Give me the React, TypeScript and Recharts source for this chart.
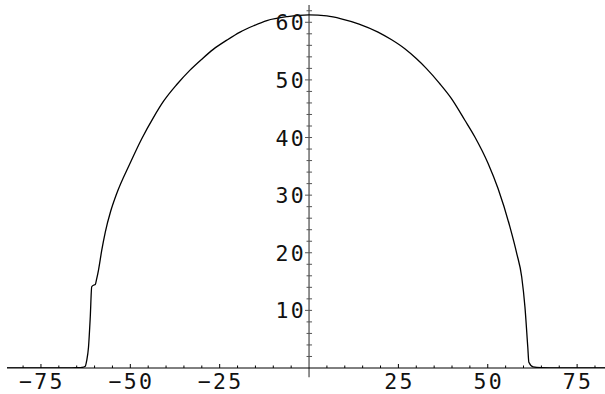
import { LineChart, Line, XAxis, YAxis, ReferenceLine, ReferenceDot } from "recharts";

// curve samples
const xs = [
  -84.5, -75, -68, -65, -63.5, -62.6, -62.2, -61.7, -61.2, -60.8, -60.2, -59.8, -59.4, -58.9, -58.0,
  -57.0, -55.5, -53.8, -50.1, -46.8, -43.5, -40.7, -37, -33.3, -30, -26.8, -23, -19.3, -15.5,
  -11.8, -6, 0, 5, 9, 14, 19.3, 23, 26.8, 30, 32.8, 36.5, 39.8, 43.6, 46.4, 50.1, 52.9,
  56.2, 58.1, 59.5, 60.4, 61.2, 61.5, 62.7, 64.9, 70, 82.8,
];
const ys = [
  0, 0, 0.01, 0.05, 0.1, 0.3, 1.3, 3.6, 8.9, 14.1, 14.4, 14.5, 15.5, 17.0, 20.4,
  23.6, 27.2, 30.3, 35.5, 39.8, 43.5, 46.3, 49.2, 51.7, 53.6, 55.3, 56.9, 58.3, 59.4,
  60.3, 61.0, 61.3, 61.1, 60.6, 59.7, 58.3, 57.0, 55.4, 53.7, 52.0, 49.4, 46.8, 43.0, 40.1, 35.5, 31.1,
  24.5, 19.9, 15.8, 10.6, 3.6, 1.0, 0.2, 0.05, 0, 0,
];

const xTicks = [-80, -75, -70, -65, -60, -55, -50, -45, -40, -35, -30, -25, -20, -15, -10, -5,
  5, 10, 15, 20, 25, 30, 35, 40, 45, 50, 55, 60, 65, 70, 75, 80];
const xLabels = [-75, -50, -25, 25, 50, 75];
const yTicks = [2, 4, 6, 8, 10, 12, 14, 16, 18, 20, 22, 24, 26, 28, 30, 32, 34, 36, 38, 40,
  42, 44, 46, 48, 50, 52, 54, 56, 58, 60, 62];
const yLabels = [10, 20, 30, 40, 50, 60];

const data = xs.map((x, i) => ({ x, y: ys[i] }));

const font = "'DejaVu Sans Mono', monospace";

function fmt(v: number) {
  return v < 0 ? "\u2212" + Math.abs(v) : String(v);
}

function XTick(props: any) {
  const { x, y, payload } = props;
  const major = xLabels.includes(payload.value);
  return (
    <g>
      <line x1={x} x2={x} y1={y} y2={y - (major ? 4 : 2.5)} stroke="#000" strokeWidth={1} />
      {major && (
        <text x={x + 1} y={y + 20.8} textAnchor="middle" fontFamily={font} fontSize={21.5}
          letterSpacing={2.3} fill="#111">
          {fmt(payload.value)}
        </text>
      )}
    </g>
  );
}

function yTickShape(value: number) {
  return (props: any) => {
    const { cx, cy } = props;
    const major = yLabels.includes(value);
    return (
      <g>
        <line x1={cx - (major ? 4 : 2.5)} x2={cx + 3} y1={cy} y2={cy} stroke="#555" strokeWidth={1} />
        {major && (
          <text x={cx - 3} y={cy + 8.1} textAnchor="end" fontFamily={font} fontSize={21.5}
            letterSpacing={2.3} fill="#111">
            {fmt(value)}
          </text>
        )}
      </g>
    );
  };
}

export default function App() {
  return (
    <div style={{ position: "absolute", left: 0, top: 0, background: "#fff" }}>
      <LineChart width={605} height={394} data={data}
        margin={{ top: 5, right: 0, bottom: 0, left: 7 }}>
        <XAxis dataKey="x" type="number" domain={[-84.5, 82.8]} allowDataOverflow
          ticks={xTicks} interval={0} height={26} tickSize={0} tickMargin={0}
          tickLine={false} axisLine={{ stroke: "#000", strokeWidth: 1 }} tick={<XTick />} />
        <YAxis hide type="number" domain={[0, 63]} allowDataOverflow />
        <ReferenceLine segment={[{ x: 0, y: -1.6 }, { x: 0, y: 63 }]} ifOverflow="visible"
          stroke="#555" strokeWidth={1.3} />
        {yTicks.map((v) => (
          <ReferenceDot key={v} x={0} y={v} r={1} ifOverflow="visible" shape={yTickShape(v)} />
        ))}
        <Line dataKey="y" type="monotone" stroke="#000" strokeWidth={1.3} dot={false}
          isAnimationActive={false} />
      </LineChart>
    </div>
  );
}
